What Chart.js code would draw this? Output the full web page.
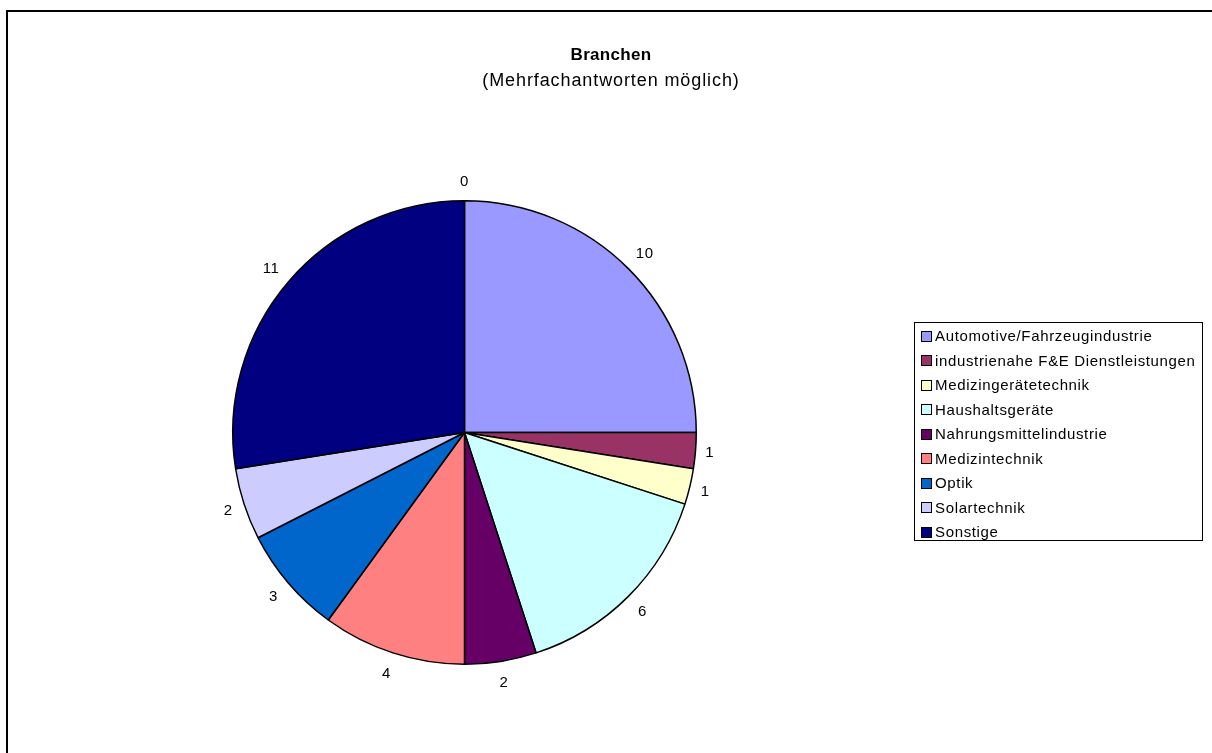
<!DOCTYPE html>
<html>
<head>
<meta charset="utf-8">
<script src="https://cdn.jsdelivr.net/npm/chart.js@4/dist/chart.umd.min.js"></script>
<style>
  html, body { margin: 0; padding: 0; background: #fff; overflow: hidden; }
  #wrap { position: relative; width: 1212px; height: 753px; overflow: hidden; font-family: "Liberation Sans", Arial, sans-serif; }
  #frame { position: absolute; left: 6px; top: 10px; width: 1300px; height: 900px; border: 2px solid #000; box-sizing: border-box; }
  #chart { position: absolute; left: 0; top: 0; }
  #title { position: absolute; left: 311px; width: 600px; top: 45px; text-align: center; font-weight: bold; font-size: 17px; letter-spacing: 0.3px; }
  #subtitle { position: absolute; left: 311px; width: 600px; top: 70px; text-align: center; font-size: 18px; letter-spacing: 0.9px; }
  #legend { position: absolute; left: 914px; top: 322px; width: 289px; height: 219px; border: 1px solid #000; box-sizing: border-box; padding-top: 1px; font-size: 15px; letter-spacing: 0.65px; }
  #legend div { height: 24.5px; line-height: 24.5px; white-space: nowrap; display: flex; align-items: center; }
  #legend span.sw { display: inline-block; width: 9px; height: 9px; border: 1px solid #000; margin-left: 6px; margin-right: 3px; }
</style>
</head>
<body>
<div id="wrap">
  <div id="frame"></div>
  <canvas id="chart" width="1212" height="753"></canvas>
  <div id="title">Branchen</div>
  <div id="subtitle">(Mehrfachantworten möglich)</div>
  <div id="legend"></div>
</div>
<script>
// Branchen der Teilnehmer, letzter Punkt ohne Kategorie (Wert 0)
const branchen = [
    "Automotive/Fahrzeugindustrie",
    "industrienahe F&E Dienstleistungen",
    "Medizingerätetechnik",
    "Haushaltsgeräte",
    "Nahrungsmittelindustrie",
    "Medizintechnik",
    "Optik",
    "Solartechnik",
    "Sonstige",
    ""
];
const anzahl = [10, 1, 1, 6, 2, 4, 3, 2, 11, 0];
const farben = ["#9999FF", "#993366", "#FFFFCC", "#CCFFFF", "#660066", "#FF8080", "#0066CC", "#CCCCFF", "#000080", "#FFFFFF"];

// legend box, only named categories
const legendNode = document.getElementById("legend");
branchen.forEach((name, i) => {
    if (!name) return;
    let row = document.createElement("div");
    let sw = document.createElement("span");
    sw.className = "sw";
    sw.style.background = farben[i];
    row.appendChild(sw);
    row.appendChild(document.createTextNode(name));
    legendNode.appendChild(row);
});

// value labels just outside each slice
const outsideLabels = {
    id: "outsideLabels",
    afterDatasetsDraw(chart) {
        const ctx = chart.ctx;
        const meta = chart.getDatasetMeta(0);
        ctx.save();
        ctx.font = '15px "Liberation Sans", Arial, sans-serif';
        ctx.letterSpacing = "0.6px";
        ctx.fillStyle = "#000";
        ctx.textAlign = "center";
        ctx.textBaseline = "alphabetic";
        meta.data.forEach((arc, i) => {
            const p = arc.getProps(["x", "y", "startAngle", "endAngle", "outerRadius"], true);
            const mid = (p.startAngle + p.endAngle) / 2;
            const txt = String(anzahl[i]);
            const w = ctx.measureText(txt).width;
            const cx = Math.cos(mid), cy = Math.sin(mid);
            const dist = p.outerRadius + 9 + Math.abs(cx) * w / 2 + Math.abs(cy) * 11;
            ctx.fillText(txt, p.x + cx * dist, p.y + cy * dist + 5.5);
        });
        ctx.restore();
    }
};

new Chart(document.getElementById("chart"), {
    type: "pie",
    data: {
        labels: branchen,
        datasets: [{
            data: anzahl,
            backgroundColor: farben,
            borderColor: "#000",
            borderWidth: 1.5
        }]
    },
    options: {
        responsive: false,
        animation: false,
        layout: {
            padding: { left: 232, right: 515, top: 200, bottom: 88 }
        },
        plugins: {
            legend: { display: false },
            tooltip: { enabled: false },
            title: { display: false }
        }
    },
    plugins: [outsideLabels]
});
</script>
</body>
</html>
